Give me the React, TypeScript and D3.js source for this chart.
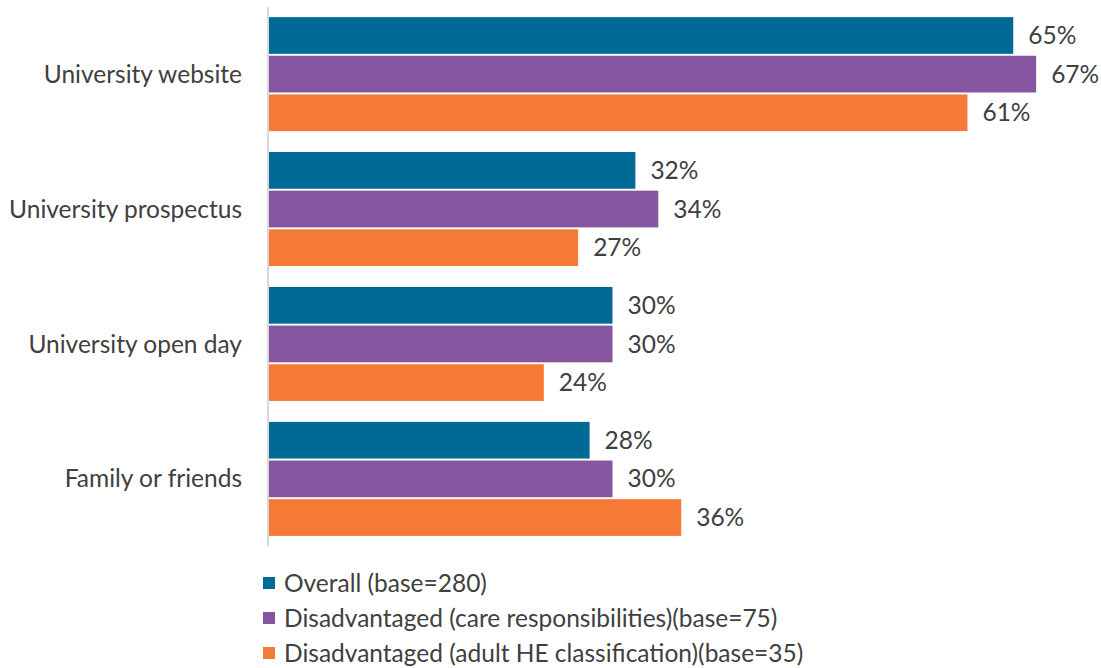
import React from 'react';
import * as d3 from 'd3';

const categories = ['University website', 'University prospectus', 'University open day', 'Family or friends'];
const seriesNames = [
  'Overall (base=280)',
  'Disadvantaged (care responsibilities)(base=75)',
  'Disadvantaged (adult HE classification)(base=35)',
];
const overall = [65, 32, 30, 28];
const careResp = [67, 34, 30, 30];
const adultHE = [61, 27, 24, 36];
const colors = ['#006A97', '#85569F', '#F47A35'];

const FONT = 'Lato, "Open Sans", sans-serif';
const FS = 24.5;

const App: React.FC = () => {
  const svgRef = React.useRef<SVGSVGElement>(null);

  React.useEffect(() => {
    if (!svgRef.current) return;
    const svg = d3.select(svgRef.current);
    svg.selectAll('*').remove();

    const series = [overall, careResp, adultHE];
    const axisX = 268;

    const x = d3.scaleLinear().domain([0, 100]).range([axisX, axisX + 1145]);
    const y0 = d3.scaleBand<string>()
      .domain(categories)
      .range([7, 546])
      .paddingInner(0.155)
      .paddingOuter(0.075);
    const y1 = d3.scaleBand<number>()
      .domain([0, 1, 2])
      .range([0, y0.bandwidth()])
      .paddingInner(0.05);

    const g = svg.append('g');

    categories.forEach((cat, ci) => {
      const gy = y0(cat)!;
      series.forEach((vals, si) => {
        const v = vals[ci];
        const by = gy + y1(si)!;
        g.append('rect')
          .attr('x', x(0) + 1)
          .attr('y', by)
          .attr('width', x(v) - x(0))
          .attr('height', y1.bandwidth())
          .attr('fill', colors[si]);
        g.append('text')
          .attr('x', x(v) + 16)
          .attr('y', by + y1.bandwidth() / 2)
          .attr('dy', '0.35em')
          .attr('font-family', FONT)
          .attr('font-size', FS)
          .attr('fill', '#404040')
          .text(`${v}%`);
      });
      g.append('text')
        .attr('x', 242)
        .attr('y', gy + y0.bandwidth() / 2)
        .attr('dy', '0.35em')
        .attr('text-anchor', 'end')
        .attr('font-family', FONT)
        .attr('font-size', FS)
        .attr('fill', '#404040')
        .text(cat);
    });

    // axis line
    svg.append('line')
      .attr('x1', axisX)
      .attr('x2', axisX)
      .attr('y1', 7)
      .attr('y2', 546)
      .attr('stroke', '#d9d9d9')
      .attr('stroke-width', 2);

    // legend
    const legend = svg.append('g');
    seriesNames.forEach((name, i) => {
      const cy = 583 + i * 35;
      legend.append('rect')
        .attr('x', 263)
        .attr('y', cy - 6)
        .attr('width', 12)
        .attr('height', 12)
        .attr('fill', colors[i]);
      legend.append('text')
        .attr('x', 284)
        .attr('y', cy)
        .attr('dy', '0.35em')
        .attr('font-family', FONT)
        .attr('font-size', FS)
        .attr('fill', '#404040')
        .text(name);
    });
  }, []);

  return (
    <svg ref={svgRef} width={1101} height={668} style={{ position: 'absolute', left: 0, top: 0, background: '#fff' }} />
  );
};

export default App;
